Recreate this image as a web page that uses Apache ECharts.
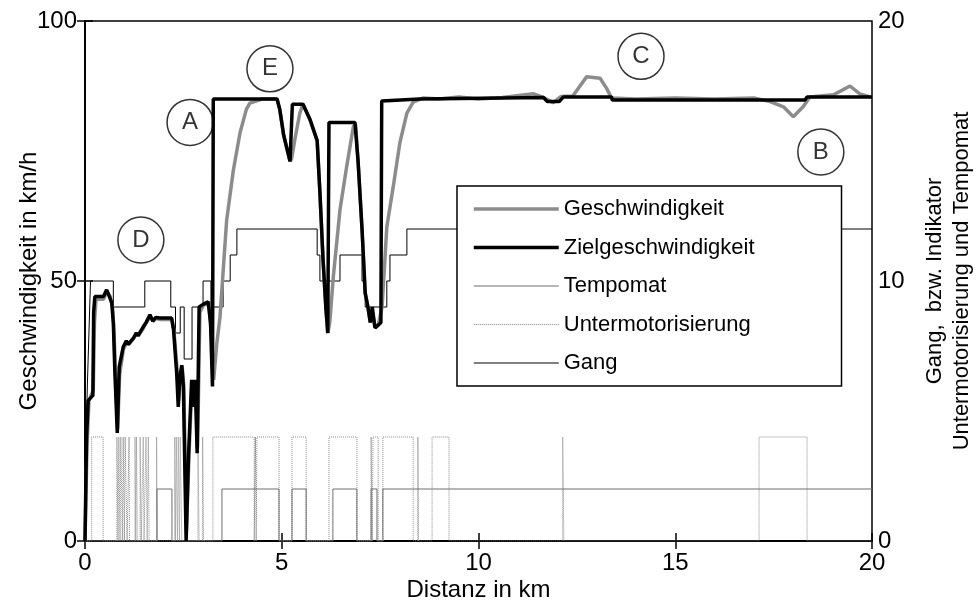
<!DOCTYPE html>
<html><head><meta charset="utf-8">
<script src="https://cdn.jsdelivr.net/npm/echarts@6/dist/echarts.min.js"></script>
<style>html,body{margin:0;padding:0;background:#fff}#c{width:979px;height:607px}</style>
</head><body><div id="c"></div>
<script>
// ---- Data ----
const xTicks = [0, 5, 10, 15, 20];
const speedKm  = [0.00,0.05,0.10,0.21,0.24,0.28,0.47,0.56,0.64,0.70,0.74,0.78,0.83,0.88,0.98,1.06,1.11,1.24,1.31,1.36,1.49,1.56,1.66,1.73,1.81,1.92,2.21,2.26,2.34,2.38,2.42,2.47,2.51,2.58,2.64,2.72,2.76,2.81,2.86,2.92,3.02,3.15,3.21,3.27,3.35,3.43,3.60,3.77,3.94,4.10,4.19,4.50,4.88,4.95,5.05,5.21,5.25,5.34,5.46,5.54,5.72,5.90,5.97,6.05,6.12,6.17,6.22,6.31,6.48,6.65,6.82,6.88,6.94,7.04,7.12,7.19,7.25,7.30,7.37,7.45,7.55,7.67,7.83,8.00,8.18,8.34,8.60,9.00,9.50,10.00,10.60,11.40,11.65,11.90,12.10,12.40,12.58,12.75,13.09,13.26,13.38,14.00,15.00,16.00,17.00,17.41,17.75,18.00,18.25,18.42,19.02,19.44,19.69,19.95,20.00];
const speedVal = [0,18,27,29,42,46.5,46.5,48,47,45,40,31,21.5,32,37,38.2,37.8,39,40,39.5,41,42,43.2,42.3,42.8,42.6,42.6,40.5,33,27,31,33.5,30,2,16,30.5,26.5,30.5,18,44,45.5,45.5,40,31,38,43,61.7,71.3,78.5,83,84.2,85,85,83,78,73,73.5,77.5,82.3,84,81,77,67,54,45,40,42,50.8,63.7,72,79.7,80,73,60,47.7,45,42,44,41,41.5,45,60.4,68,76.5,82.3,84.4,85.2,85.0,85.4,85.0,85.3,86,85.3,84.3,85.5,85.6,87.5,89.3,89,87,85.2,85.0,85.2,85.0,85.2,84.5,83.5,81.6,83.5,85.4,85.8,87.5,86,85.4,85.4];

const targetKm  = [0.00,0.04,0.08,0.20,0.22,0.25,0.47,0.55,0.62,0.68,0.72,0.76,0.82,0.87,0.97,1.05,1.10,1.23,1.30,1.35,1.48,1.55,1.65,1.72,1.80,1.91,2.20,2.25,2.33,2.37,2.41,2.46,2.50,2.57,2.63,2.71,2.75,2.80,2.85,2.90,3.00,3.13,3.19,3.24,3.26,4.88,4.95,5.05,5.21,5.25,5.27,5.54,5.72,5.90,5.97,6.05,6.12,6.17,6.19,6.20,6.86,6.94,7.04,7.12,7.19,7.25,7.30,7.37,7.45,7.52,7.54,8.50,11.65,11.75,12.05,12.16,13.38,13.40,18.30,18.35,20.00];
const targetVal = [0,20,27,28,44,47,47,48.3,47,45.8,41.9,32.3,20.8,33.5,37.3,38.5,37.8,39,40,39.5,41.2,42,43.5,42.3,43,42.9,42.9,40.6,32.3,25.8,31.6,33.8,29.7,0,16.2,31,25.8,31,16.9,45,45.5,46,41.9,29.7,85,85,83,78,73,73,84,84,81,77,67,54,45,40,40,80.5,80.5,73,60,47.7,45,42,45,41,41.5,42,84.6,85,85.3,84.5,84.5,85.4,85.4,84.8,84.8,85.4,85.4];

const cruiseKm  = [0,1.83,2.21,3.48,4.93,5.26,5.62,6.30,6.91,7.27,7.42,7.57,20];
const cruiseVal = [0,2,0,2,0,2,0,2,0,2,0,2,2];

const underKm  = [0,0.17,0.46,0.81,0.84,0.86,0.89,0.91,0.95,0.97,1.00,1.02,1.07,1.12,1.13,1.27,1.29,1.31,1.33,1.40,1.43,1.48,1.50,1.55,1.58,1.61,1.63,1.82,1.83,2.28,2.30,2.32,2.35,2.37,2.40,2.42,2.46,2.87,2.90,2.99,3.01,3.25,4.30,4.33,4.35,4.37,4.93,5.26,5.62,6.20,6.91,7.27,7.30,7.32,7.45,7.57,8.34,8.46,8.47,8.82,9.25,12.14,12.17,17.13,18.35,20];
const underVal = [0,4,0,4,0,4,0,4,0,4,0,4,0,4,0,4,0,4,0,4,0,4,0,4,0,4,0,4,0,4,0,4,0,4,0,4,0,4,0,4,0,4,0,4,0,4,0,4,0,4,0,4,0,4,0,4,0,4,0,4,0,4,0,4,0,0];

const gearKm  = [0,0.03,0.06,0.10,0.14,0.72,1.52,2.18,2.30,2.42,2.52,2.72,3.00,3.20,3.51,3.69,3.86,5.90,5.97,6.48,7.04,7.12,7.67,7.75,8.18,20];
const gearVal = [2,4,6,8,10,9,10,9,8,9,7,9,10,9,10,11,12,11,10,11,10,9,10,11,12,12];

const markLabels = ['A','B','C','D','E'];
const markKm  = [2.67,18.70,14.13,1.42,4.70];
const markVal = [80.5,74.8,93.2,57.9,90.8];

// ---- Build ----
const zip = (a,b) => a.map((v,i)=>[v,b[i]]);
const FONT = 'Liberation Sans, Arial, sans-serif';
const chart = echarts.init(document.getElementById('c'), null, {renderer:'canvas'});
const axisLine = {show:true, lineStyle:{color:'#000', width:1.5}};
const axisTick = {show:true, inside:true, length:8, lineStyle:{color:'#000', width:1.5}};
const styles = {
  Geschwindigkeit:{color:'#8c8c8c', width:3.5, type:'solid'},
  Zielgeschwindigkeit:{color:'#000', width:3.5, type:'solid'},
  Tempomat:{color:'#6e6e6e', width:1, type:'solid'},
  Untermotorisierung:{color:'#8a8a8a', width:1, type:'dotted'},
  Gang:{color:'#000', width:1, type:'solid'}
};
chart.setOption({
  animation:false,
  backgroundColor:'#fff',
  grid:{left:85, right:107, top:21, bottom:66, show:true, borderColor:'#000', borderWidth:1.5,
        backgroundColor:'transparent', containLabel:false, outerBoundsMode:'none'},
  legend:{
    data:Object.keys(styles).map(n=>({name:n, lineStyle:Object.assign({}, styles[n]), itemStyle:{opacity:0}})),
    orient:'vertical', left:457, top:186,
    padding:[11,87,11,15], itemWidth:85, itemHeight:14, itemGap:14.5,
    backgroundColor:'#fff', borderColor:'#000', borderWidth:1.5,
    itemStyle:{opacity:0},
    textStyle:{fontSize:22, fontFamily:FONT, color:'#000', lineHeight:24},
    selectedMode:false
  },
  xAxis:[
    {type:'value', min:0, max:20, interval:5, position:'bottom',
     axisLine, axisTick, splitLine:{show:false},
     axisLabel:{fontSize:24, fontFamily:FONT, color:'#000', margin:10},
     name:'Distanz in km', nameLocation:'middle', nameGap:37, nameMoveOverlap:false,
     nameTextStyle:{fontSize:24, fontFamily:FONT, color:'#000'}},
    {type:'value', min:0, max:20, interval:5, position:'top',
     axisLine, axisTick, splitLine:{show:false}, axisLabel:{show:false}}
  ],
  yAxis:[
    {type:'value', min:0, max:100, interval:50, position:'left',
     axisLine, axisTick, splitLine:{show:false},
     axisLabel:{fontSize:24, fontFamily:FONT, color:'#000', margin:8},
     name:'Geschwindigkeit in km/h', nameLocation:'middle', nameGap:44, nameRotate:90, nameMoveOverlap:false,
     nameTextStyle:{fontSize:24, fontFamily:FONT, color:'#000'}},
    {type:'value', min:0, max:20, interval:10, position:'right',
     axisLine, axisTick, splitLine:{show:false},
     axisLabel:{fontSize:24, fontFamily:FONT, color:'#000', margin:6},
     name:'Gang,  bzw. Indikator\nUntermotorisierung und Tempomat', nameLocation:'middle', nameGap:49, nameRotate:90, nameMoveOverlap:false,
     nameTextStyle:{fontSize:22, fontFamily:FONT, color:'#000', lineHeight:27, align:'center'}}
  ],
  series:[
    {name:'Untermotorisierung', type:'line', yAxisIndex:1, step:'end', symbol:'none', data:zip(underKm,underVal),
     color:styles.Untermotorisierung.color, lineStyle:styles.Untermotorisierung, z:2},
    {name:'Tempomat', type:'line', yAxisIndex:1, step:'end', symbol:'none', data:zip(cruiseKm,cruiseVal),
     color:styles.Tempomat.color, lineStyle:styles.Tempomat, z:2},
    {name:'Gang', type:'line', yAxisIndex:1, step:'end', symbol:'none', data:zip(gearKm,gearVal),
     color:styles.Gang.color, lineStyle:styles.Gang, z:2},
    {name:'Geschwindigkeit', type:'line', yAxisIndex:0, symbol:'none', data:zip(speedKm,speedVal),
     color:styles.Geschwindigkeit.color, lineStyle:styles.Geschwindigkeit, z:3},
    {name:'Zielgeschwindigkeit', type:'line', yAxisIndex:0, symbol:'none', data:zip(targetKm,targetVal),
     color:styles.Zielgeschwindigkeit.color, lineStyle:styles.Zielgeschwindigkeit, z:4},
    {name:'marks', type:'scatter', yAxisIndex:0, symbol:'circle', symbolSize:46, silent:true,
     data:markKm.map((k,i)=>[k, markVal[i], markLabels[i]]),
     itemStyle:{color:'rgba(255,255,255,0)', borderColor:'#000', borderWidth:1.5},
     label:{show:true, position:'inside', formatter:p=>p.data[2], fontSize:24, fontFamily:FONT, color:'#000'}, z:5}
  ]
});
</script></body></html>
